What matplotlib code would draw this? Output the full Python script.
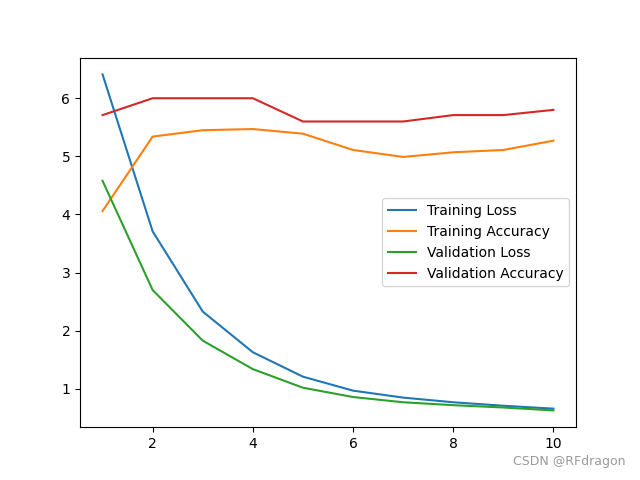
import matplotlib
matplotlib.use("Agg")
import matplotlib.pyplot as plt

epochs = [1, 2, 3, 4, 5, 6, 7, 8, 9, 10]
train_loss = [6.41, 3.71, 2.33, 1.63, 1.21, 0.97, 0.85, 0.77, 0.71, 0.66]
train_acc = [4.06, 5.34, 5.45, 5.47, 5.39, 5.11, 4.99, 5.07, 5.11, 5.27]
val_loss = [4.58, 2.70, 1.83, 1.34, 1.02, 0.86, 0.77, 0.72, 0.68, 0.63]
val_acc = [5.71, 6.0, 6.0, 6.0, 5.6, 5.6, 5.6, 5.71, 5.71, 5.8]

fig, ax = plt.subplots(figsize=(6.4, 4.8), dpi=100)
ax.plot(epochs, train_loss, label="Training Loss")
ax.plot(epochs, train_acc, label="Training Accuracy")
ax.plot(epochs, val_loss, label="Validation Loss")
ax.plot(epochs, val_acc, label="Validation Accuracy")
ax.legend(loc="center right")
fig.text(0.978, 0.025, "CSDN @RFdragon", ha="right", va="bottom", color="#999999", fontsize=9)
fig.savefig("out.png")
